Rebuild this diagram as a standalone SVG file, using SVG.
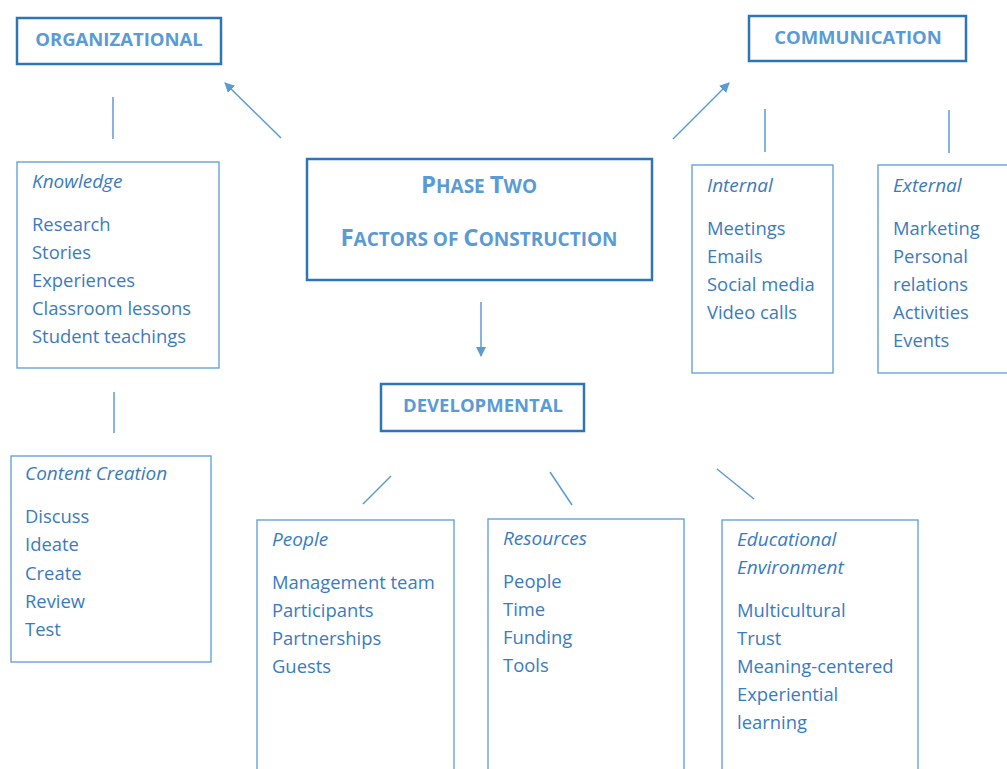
<svg xmlns="http://www.w3.org/2000/svg" width="1007" height="769" viewBox="0 0 1007 769">
<defs>
<style>
.hbox{fill:#fff;stroke:#2E75B6;stroke-width:2.5}
.sbox{fill:#fff;stroke:#5B9BD5;stroke-width:1.3}
.htxt{font-family:"Open Sans","Noto Sans",sans-serif;font-weight:bold;font-size:18.5px;fill:#5B9BD5;text-anchor:middle}
.ptxt{font-family:"Open Sans","Noto Sans",sans-serif;font-weight:bold;fill:#5B9BD5;text-anchor:middle}
.ttl{font-family:"Open Sans","Noto Sans",sans-serif;font-style:italic;font-size:19px;fill:#3A7BBF}
.itm{font-family:"Open Sans","Noto Sans",sans-serif;font-size:18.4px;fill:#3A7BBF}
.con{stroke:#5B9BD5;stroke-width:1.5;fill:none}
</style>
<marker id="ah" markerWidth="10" markerHeight="10" refX="9" refY="5" orient="auto" markerUnits="userSpaceOnUse" viewBox="0 0 10 10">
<path d="M0,0 L10,5 L0,10 z" fill="#5B9BD5"/>
</marker>
</defs>
<rect width="1007" height="769" fill="#fff"/>

<g id="connectors">
<line class="con" x1="281" y1="138" x2="225" y2="83" marker-end="url(#ah)"/>
<line class="con" x1="673" y1="139" x2="729" y2="83" marker-end="url(#ah)"/>
<line class="con" x1="481" y1="302" x2="481" y2="356" marker-end="url(#ah)"/>
<line class="con" x1="113" y1="97" x2="113" y2="139"/>
<line class="con" x1="765" y1="109" x2="765" y2="152"/>
<line class="con" x1="949" y1="110" x2="949" y2="153"/>
<line class="con" x1="114" y1="392" x2="114" y2="433"/>
<line class="con" x1="391" y1="476" x2="363" y2="504"/>
<line class="con" x1="550" y1="472" x2="572" y2="505"/>
<line class="con" x1="717" y1="469" x2="754" y2="499"/>
</g>

<g id="organizational">
<rect class="hbox" x="17" y="18" width="204" height="46"/>
<text class="htxt" x="119" y="46">ORGANIZATIONAL</text>
</g>

<g id="communication">
<rect class="hbox" x="749" y="16" width="217" height="45"/>
<text class="htxt" x="858" y="44">COMMUNICATION</text>
</g>

<g id="phase-two">
<rect class="hbox" x="307" y="159" width="345" height="121"/>
<text class="ptxt" x="479" y="193"><tspan font-size="24">P</tspan><tspan font-size="19">HASE </tspan><tspan font-size="24">T</tspan><tspan font-size="19">WO</tspan></text>
<text class="ptxt" x="479" y="246"><tspan font-size="24">F</tspan><tspan font-size="19">ACTORS OF </tspan><tspan font-size="24">C</tspan><tspan font-size="19">ONSTRUCTION</tspan></text>
</g>

<g id="developmental">
<rect class="hbox" x="381" y="384" width="203" height="47"/>
<text class="htxt" x="483" y="412">DEVELOPMENTAL</text>
</g>

<g id="knowledge">
<rect class="sbox" x="17" y="162" width="202" height="206"/>
<text class="ttl" x="32" y="188">Knowledge</text>
<text class="itm" x="32" y="231">Research</text>
<text class="itm" x="32" y="259">Stories</text>
<text class="itm" x="32" y="287">Experiences</text>
<text class="itm" x="32" y="315">Classroom lessons</text>
<text class="itm" x="32" y="343">Student teachings</text>
</g>

<g id="internal">
<rect class="sbox" x="692" y="165" width="141" height="208"/>
<text class="ttl" x="707" y="192">Internal</text>
<text class="itm" x="707" y="235">Meetings</text>
<text class="itm" x="707" y="263">Emails</text>
<text class="itm" x="707" y="291">Social media</text>
<text class="itm" x="707" y="319">Video calls</text>
</g>

<g id="external">
<rect class="sbox" x="878" y="165" width="140" height="208"/>
<text class="ttl" x="893" y="192">External</text>
<text class="itm" x="893" y="235">Marketing</text>
<text class="itm" x="893" y="263">Personal</text>
<text class="itm" x="893" y="291">relations</text>
<text class="itm" x="893" y="319">Activities</text>
<text class="itm" x="893" y="347">Events</text>
</g>

<g id="content-creation">
<rect class="sbox" x="11" y="456" width="200" height="206"/>
<text class="ttl" x="25" y="480">Content Creation</text>
<text class="itm" x="25" y="523">Discuss</text>
<text class="itm" x="25" y="551">Ideate</text>
<text class="itm" x="25" y="580">Create</text>
<text class="itm" x="25" y="608">Review</text>
<text class="itm" x="25" y="636">Test</text>
</g>

<g id="people">
<rect class="sbox" x="257" y="520" width="197" height="260"/>
<text class="ttl" x="272" y="546">People</text>
<text class="itm" x="272" y="589">Management team</text>
<text class="itm" x="272" y="617">Participants</text>
<text class="itm" x="272" y="645">Partnerships</text>
<text class="itm" x="272" y="673">Guests</text>
</g>

<g id="resources">
<rect class="sbox" x="488" y="519" width="196" height="260"/>
<text class="ttl" x="503" y="545">Resources</text>
<text class="itm" x="503" y="588">People</text>
<text class="itm" x="503" y="616">Time</text>
<text class="itm" x="503" y="644">Funding</text>
<text class="itm" x="503" y="672">Tools</text>
</g>

<g id="educational-environment">
<rect class="sbox" x="722" y="520" width="196" height="260"/>
<text class="ttl" x="737" y="546">Educational</text>
<text class="ttl" x="737" y="574">Environment</text>
<text class="itm" x="737" y="617">Multicultural</text>
<text class="itm" x="737" y="645">Trust</text>
<text class="itm" x="737" y="673">Meaning-centered</text>
<text class="itm" x="737" y="701">Experiential</text>
<text class="itm" x="737" y="729">learning</text>
</g>
</svg>
